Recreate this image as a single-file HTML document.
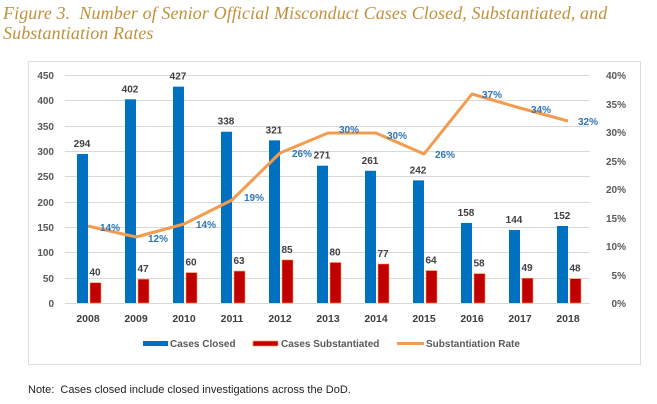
<!DOCTYPE html>
<html><head><meta charset="utf-8"><style>
body{margin:0;background:#fff;width:657px;height:404px;overflow:hidden;font-family:"Liberation Sans",sans-serif}
.t{position:absolute;left:3px;top:3px;font-family:"Liberation Serif",serif;font-style:italic;color:#c0913c;font-size:18px;line-height:20px;letter-spacing:0.1px}
.n{position:absolute;left:28px;top:384px;font-size:11px;color:#222}
</style></head><body>
<div class="t">Figure 3.&nbsp; Number of Senior Official Misconduct Cases Closed, Substantiated, and<br>Substantiation Rates</div>
<svg style="position:absolute;left:0;top:0" width="657" height="404" font-family="Liberation Sans" font-weight="bold" font-size="10">
<rect x="28.5" y="61.5" width="612" height="303" fill="#fff" stroke="#ddd"/>
<g stroke="#d9d9d9" stroke-width="1">
<line x1="65" x2="590" y1="75.5" y2="75.5"/><line x1="65" x2="590" y1="100.5" y2="100.5"/><line x1="65" x2="590" y1="126.5" y2="126.5"/><line x1="65" x2="590" y1="151.5" y2="151.5"/><line x1="65" x2="590" y1="176.5" y2="176.5"/><line x1="65" x2="590" y1="202.5" y2="202.5"/><line x1="65" x2="590" y1="227.5" y2="227.5"/><line x1="65" x2="590" y1="252.5" y2="252.5"/><line x1="65" x2="590" y1="278.5" y2="278.5"/><line x1="65" x2="590" y1="303.5" y2="303.5"/>
</g>
<g fill="#595959" text-anchor="end">
<text x="54" y="79">450</text><text x="54" y="104">400</text><text x="54" y="130">350</text><text x="54" y="155">300</text><text x="54" y="180">250</text><text x="54" y="206">200</text><text x="54" y="231">150</text><text x="54" y="256">100</text><text x="54" y="282">50</text><text x="54" y="307">0</text>
</g>
<g fill="#595959" text-anchor="end">
<text x="626" y="79">40%</text><text x="626" y="108">35%</text><text x="626" y="136">30%</text><text x="626" y="165">25%</text><text x="626" y="193">20%</text><text x="626" y="222">15%</text><text x="626" y="250">10%</text><text x="626" y="279">5%</text><text x="626" y="307">0%</text>
</g>
<g id="bars"></g>
<polyline fill="none" stroke="#f39c4f" stroke-width="3" stroke-linejoin="round" points="88,226 136,237 184,224 232,200 280,153 328,133 376,133 424,154 472,94 520,108 568,121"/>
<g fill="#2e75b6" font-size="10">
<text x="100" y="231">14%</text><text x="148" y="242">12%</text><text x="196" y="228">14%</text><text x="244" y="201">19%</text><text x="292" y="157">26%</text><text x="339" y="133">30%</text><text x="387" y="139">30%</text><text x="435" y="158">26%</text><text x="482" y="98">37%</text><text x="531" y="113">34%</text><text x="578" y="125">32%</text>
</g>
<g fill="#404040" text-anchor="middle" font-size="10.5">
<text x="88" y="322">2008</text><text x="136" y="322">2009</text><text x="184" y="322">2010</text><text x="232" y="322">2011</text><text x="280" y="322">2012</text><text x="328" y="322">2013</text><text x="376" y="322">2014</text><text x="424" y="322">2015</text><text x="472" y="322">2016</text><text x="520" y="322">2017</text><text x="568" y="322">2018</text>
</g>
<rect x="143" y="341" width="25" height="5" fill="#0070c0"/><text x="170" y="347" fill="#595959">Cases Closed</text>
<rect x="253" y="341" width="25" height="5" fill="#c00000" stroke="#f39c4f" stroke-width="0.7"/><text x="281" y="347" fill="#595959">Cases Substantiated</text>
<rect x="397" y="342" width="27" height="3" fill="#f39c4f"/><text x="426" y="347" fill="#595959">Substantiation Rate</text>
</svg>
<script>
var c=[294,402,427,338,321,271,261,242,158,144,152],s=[40,47,60,63,85,80,77,64,58,49,48],g=document.getElementById('bars'),h='';
function Y(v){return 303-v*228/450}
for(var i=0;i<11;i++){var x=88+48*i;
h+='<rect x="'+(x-11)+'" y="'+Y(c[i])+'" width="11" height="'+(303-Y(c[i]))+'" fill="#0070c0"/>';
h+='<rect x="'+(x+2)+'" y="'+Y(s[i])+'" width="11" height="'+(303-Y(s[i]))+'" fill="#c00000" stroke="#f39c4f" stroke-width="0.6"/>';
h+='<text x="'+(x-6)+'" y="'+(Y(c[i])-7)+'" fill="#404040" text-anchor="middle">'+c[i]+'</text>';
h+='<text x="'+(x+7)+'" y="'+(Y(s[i])-7)+'" fill="#404040" text-anchor="middle">'+s[i]+'</text>';}
g.innerHTML=h;
</script>
<div class="n">Note:&nbsp; Cases closed include closed investigations across the DoD.</div>
</body></html>
